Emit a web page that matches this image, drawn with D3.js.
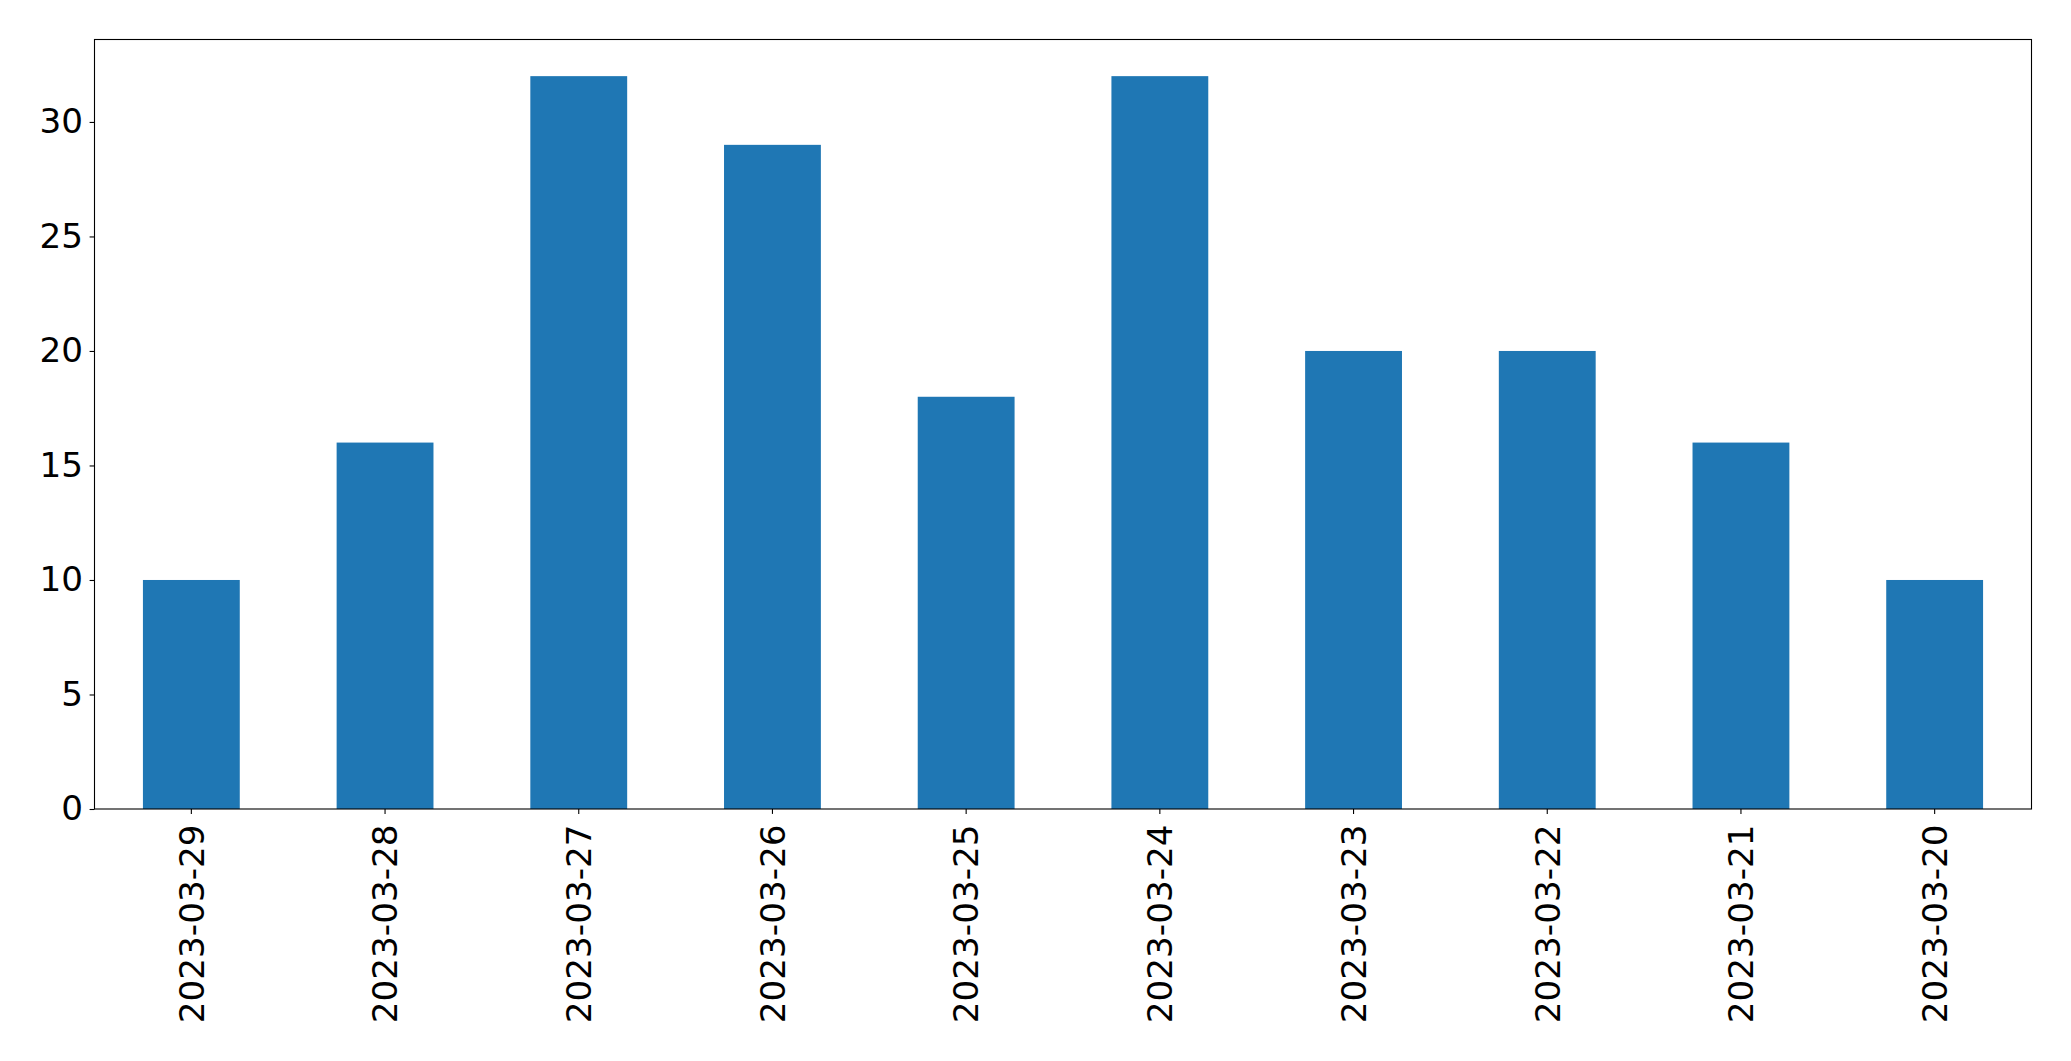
<!DOCTYPE html>
<html>
<head>
<meta charset="utf-8">
<script src="https://cdn.jsdelivr.net/npm/d3@7"></script>
<style>
  body { margin: 0; background: #fff; }
  text { font-family: "DejaVu Sans", sans-serif; }
</style>
</head>
<body>
<svg id="chart"></svg>
<script>
// data
var dates = ["2023-03-29", "2023-03-28", "2023-03-27", "2023-03-26", "2023-03-25",
             "2023-03-24", "2023-03-23", "2023-03-22", "2023-03-21", "2023-03-20"];
var counts = [10, 16, 32, 29, 18, 32, 20, 20, 16, 10];
var yTicks = [0, 5, 10, 15, 20, 25, 30];

var W = 2071, H = 1061;
var margin = {top: 39.5, right: 39.5, bottom: 252, left: 94.5},
    width = W - margin.left - margin.right,
    height = H - margin.top - margin.bottom;

var svg = d3.select("#chart")
    .attr("width", W)
    .attr("height", H)
  .append("g")
    .attr("transform", "translate(" + margin.left + "," + margin.top + ")");

// x: bars take half of each slot, like pandas bar plot
var x = d3.scaleBand()
  .domain(dates)
  .range([0, width])
  .paddingInner(0.5)
  .paddingOuter(0.25);

var y = d3.scaleLinear()
  .domain([0, d3.max(counts) * 1.05])
  .range([height, 0]);

var data = dates.map(function(d, i) { return {date: d, n: counts[i]}; });

svg.selectAll("rect.bar")
  .data(data)
  .enter()
  .append("rect")
    .attr("class", "bar")
    .attr("x", function(d) { return x(d.date); })
    .attr("y", function(d) { return y(d.n); })
    .attr("width", x.bandwidth())
    .attr("height", function(d) { return height - y(d.n); })
    .attr("fill", "#1f77b4");

// y axis
var yAxis = svg.append("g")
  .call(d3.axisLeft(y).tickValues(yTicks).tickSize(4.9).tickPadding(6.5).tickFormat(d3.format("d")));
yAxis.select(".domain").remove();
yAxis.selectAll("line").attr("stroke", "#000").attr("stroke-width", 1.1);
yAxis.selectAll("text")
  .attr("font-size", "34.2px")
  .attr("fill", "#000")
  .attr("font-family", "DejaVu Sans");

// x axis
var xAxis = svg.append("g")
  .attr("transform", "translate(0," + height + ")")
  .call(d3.axisBottom(x).tickSize(4.9).tickPadding(0));
xAxis.select(".domain").remove();
xAxis.selectAll("line").attr("stroke", "#000").attr("stroke-width", 1.1);
xAxis.selectAll("text")
  .attr("font-size", "34.2px")
  .attr("fill", "#000")
  .attr("font-family", "DejaVu Sans")
  .attr("text-anchor", "end")
  .attr("y", 0)
  .attr("dy", "0.36em")
  .attr("transform", "translate(0,15.5) rotate(-90)");

// frame
svg.append("rect")
  .attr("x", 0)
  .attr("y", 0)
  .attr("width", width)
  .attr("height", height)
  .attr("fill", "none")
  .attr("stroke", "#000")
  .attr("stroke-width", 1.1);
</script>
</body>
</html>
